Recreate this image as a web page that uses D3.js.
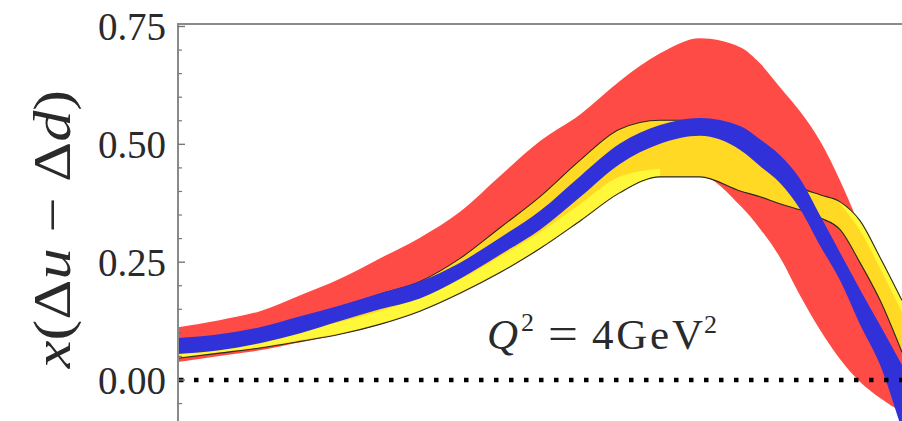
<!DOCTYPE html>
<html>
<head>
<meta charset="utf-8">
<script src="https://cdn.jsdelivr.net/npm/d3@7"></script>
<style>
  html, body { margin: 0; padding: 0; background: #fff; }
  svg { display: block; }
  text { font-family: "Liberation Serif", "Times New Roman", serif; fill: #2a2a2a; }
</style>
</head>
<body>
<svg id="chart" width="902" height="421"></svg>
<script>
// ---- data ----
const xGrid = [0.01, 0.013, 0.0168, 0.0217, 0.0279, 0.0359, 0.0463, 0.0597, 0.0769, 0.0991,
  0.128, 0.164, 0.212, 0.273, 0.352, 0.399, 0.453, 0.514, 0.584, 0.663, 0.752, 0.854, 0.981];

const redUpper = [0.112, 0.127, 0.146, 0.180, 0.215, 0.258, 0.302, 0.357, 0.433, 0.507,
  0.564, 0.634, 0.693, 0.725, 0.706, 0.672, 0.621, 0.570, 0.507, 0.423, 0.325, 0.222, 0.074];
const redLower = [0.038, 0.051, 0.063, 0.080, 0.097, 0.118, 0.146, 0.184, 0.228, 0.279,
  0.338, 0.397, 0.431, 0.433, 0.370, 0.321, 0.260, 0.180, 0.106, 0.044, -0.004, -0.038, -0.068];

const goldUpper = [0.082, 0.093, 0.108, 0.131, 0.154, 0.182, 0.209, 0.258, 0.323, 0.389,
  0.467, 0.532, 0.551, 0.551, 0.518, 0.486, 0.452, 0.410, 0.393, 0.378, 0.338, 0.260, 0.169];
const goldLower = [0.046, 0.057, 0.068, 0.082, 0.097, 0.118, 0.146, 0.184, 0.228, 0.279,
  0.338, 0.397, 0.431, 0.431, 0.401, 0.389, 0.374, 0.361, 0.344, 0.319, 0.249, 0.169, 0.059];

const yellowUpper = [0.059, 0.072, 0.085, 0.104, 0.123, 0.146, 0.175, 0.213, 0.262, 0.313,
  0.374, 0.431, 0.448, null, null, null, null, null, null, 0.378, 0.338, 0.260, 0.169];
const yellowLower = [0.049, 0.059, 0.070, 0.085, 0.099, 0.120, 0.148, 0.186, 0.230, 0.281,
  0.340, 0.399, 0.433, null, null, null, null, null, null, 0.374, 0.317, 0.237, 0.144];

const blueUpper = [0.089, 0.097, 0.112, 0.135, 0.158, 0.184, 0.209, 0.249, 0.302, 0.359,
  0.433, 0.501, 0.541, 0.556, 0.539, 0.511, 0.477, 0.427, 0.349, 0.270, 0.192, 0.116, 0.032];
const blueLower = [0.055, 0.063, 0.078, 0.099, 0.125, 0.150, 0.173, 0.215, 0.266, 0.319,
  0.389, 0.458, 0.501, 0.518, 0.488, 0.454, 0.418, 0.363, 0.285, 0.211, 0.118, 0.032, -0.106];

const yMajorTicks = [0, 0.25, 0.5, 0.75];
const yTickLabels = ["0.00", "0.25", "0.50", "0.75"];

// ---- layout ----
const W = 902, H = 421;
const plotLeft = 178, plotTop = 24, plotRight = 905;
const svg = d3.select("#chart");

const x = d3.scaleLog().domain([0.01, 1]).range([plotLeft, plotRight]);
const y = d3.scaleLinear().domain([0, 0.75]).range([380, 26.5]);

svg.append("defs").append("clipPath").attr("id", "plotclip")
  .append("rect").attr("x", plotLeft).attr("y", plotTop).attr("width", W - plotLeft).attr("height", H - plotTop);

const g = svg.append("g").attr("clip-path", "url(#plotclip)");

function bandData(lo, hi) {
  return xGrid.map((xv, i) => ({ x: xv, lo: lo[i], hi: hi[i] }));
}
const area = d3.area()
  .defined(d => d.lo != null && d.hi != null)
  .x(d => x(d.x)).y0(d => y(d.lo)).y1(d => y(d.hi))
  .curve(d3.curveMonotoneX);
const lineLo = d3.line().defined(d => d.lo != null).x(d => x(d.x)).y(d => y(d.lo)).curve(d3.curveMonotoneX);
const lineHi = d3.line().defined(d => d.hi != null).x(d => x(d.x)).y(d => y(d.hi)).curve(d3.curveMonotoneX);

const red = bandData(redLower, redUpper);
const gold = bandData(goldLower, goldUpper);
const yel = bandData(yellowLower, yellowUpper);
const blue = bandData(blueLower, blueUpper);

g.append("path").datum(red).attr("d", area).attr("fill", "#FF4B45");
g.append("path").datum(gold).attr("d", area).attr("fill", "#FFD923");
g.append("path").datum(yel).attr("d", area).attr("fill", "#FFF83A");
g.append("path").datum(gold).attr("d", lineLo).attr("fill", "none").attr("stroke", "#2a2a1a").attr("stroke-width", 1.1);
g.append("path").datum(gold).attr("d", lineHi).attr("fill", "none").attr("stroke", "#2a2a1a").attr("stroke-width", 1.1);
g.append("path").datum(blue).attr("d", area).attr("fill", "#3131DA");

// dotted zero line
g.append("line")
  .attr("x1", plotLeft + 1).attr("x2", W).attr("y1", y(0)).attr("y2", y(0))
  .attr("stroke", "#000").attr("stroke-width", 4.5)
  .attr("stroke-dasharray", "4.5,10.5");

// frame
svg.append("line").attr("x1", plotLeft).attr("x2", W).attr("y1", plotTop).attr("y2", plotTop)
  .attr("stroke", "#8a8a8a").attr("stroke-width", 2);
svg.append("line").attr("x1", plotLeft).attr("x2", plotLeft).attr("y1", plotTop - 1).attr("y2", H)
  .attr("stroke", "#8a8a8a").attr("stroke-width", 2);

// ticks (inside)
const minorTicks = d3.range(-0.05, 0.751, 0.05).filter(v => !yMajorTicks.some(m => Math.abs(m - v) < 1e-6));
svg.selectAll(".minor").data(minorTicks).enter().append("line")
  .attr("x1", plotLeft).attr("x2", plotLeft + 4)
  .attr("y1", d => y(d)).attr("y2", d => y(d))
  .attr("stroke", "#777").attr("stroke-width", 1.2);
svg.selectAll(".major").data(yMajorTicks).enter().append("line")
  .attr("x1", plotLeft).attr("x2", plotLeft + 7)
  .attr("y1", d => y(d)).attr("y2", d => y(d))
  .attr("stroke", "#777").attr("stroke-width", 1.4);
svg.selectAll(".ylab").data(yMajorTicks).enter().append("text")
  .attr("x", 166).attr("y", d => y(d))
  .attr("dy", "0.35em")
  .attr("text-anchor", "end")
  .attr("font-size", 39)
  .attr("textLength", 68).attr("lengthAdjust", "spacing")
  .text((d, i) => yTickLabels[i]);

// y-axis title
const yt = svg.append("text")
  .attr("transform", "translate(70,229) rotate(-90) scale(1.2,1)")
  .attr("text-anchor", "middle")
  .attr("font-size", 52);
yt.append("tspan").attr("font-style", "italic").text("x");
yt.append("tspan").text("(Δ");
yt.append("tspan").attr("font-style", "italic").text("u");
yt.append("tspan").text(" − Δ");
yt.append("tspan").attr("font-style", "italic").text("d");
yt.append("tspan").text(")");

// annotation  Q^2 = 4 GeV^2
const ann = svg.append("g");
ann.append("text").attr("x", 487).attr("y", 349).attr("font-size", 43).attr("font-style", "italic").text("Q");
ann.append("text").attr("x", 521).attr("y", 331).attr("font-size", 26).text("2");
ann.append("text").attr("x", 548).attr("y", 349).attr("font-size", 46)
  .attr("textLength", 30).attr("lengthAdjust", "spacingAndGlyphs").text("=");
ann.append("text").attr("x", 592).attr("y", 349).attr("font-size", 43)
  .attr("textLength", 111).attr("lengthAdjust", "spacing").text("4GeV");
ann.append("text").attr("x", 704).attr("y", 333).attr("font-size", 26).text("2");
</script>
</body>
</html>
